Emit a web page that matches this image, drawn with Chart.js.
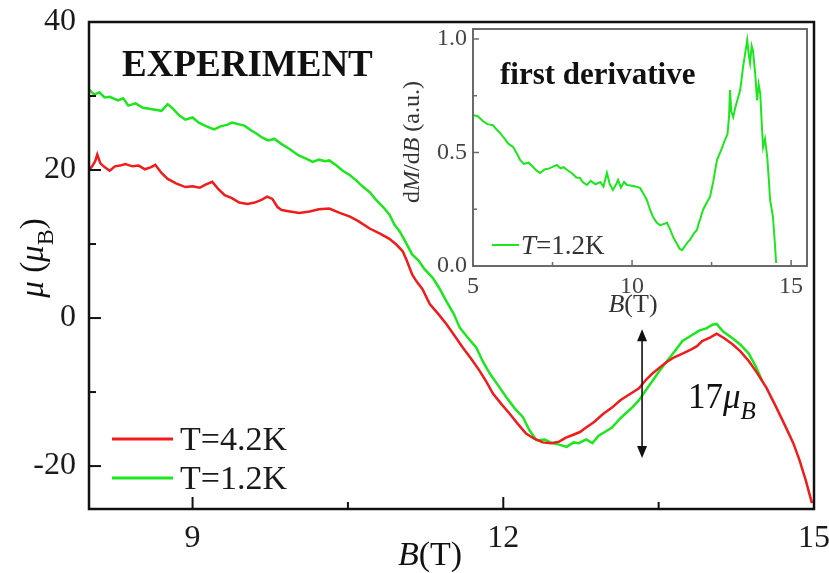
<!DOCTYPE html>
<html>
<head>
<meta charset="utf-8">
<script src="https://cdn.jsdelivr.net/npm/chart.js@4"></script>
<style>
  body { margin: 0; background: #fff; }
  #wrap { position: relative; width: 829px; height: 573px; }
  #main { position: absolute; left: 0; top: 0; }
  #inset { position: absolute; left: 390px; top: 0; }
</style>
</head>
<body>
<div id="wrap">
  <canvas id="main" width="829" height="573"></canvas>
  <canvas id="inset" width="439" height="320"></canvas>
</div>
<script>
// main panel: magnetisation vs field
const greenB = [8.00, 8.05, 8.10, 8.15, 8.20, 8.28, 8.33, 8.38, 8.45, 8.52, 8.61, 8.70, 8.76, 8.81, 8.87, 8.93, 9.00, 9.06, 9.12, 9.17,
  9.21, 9.27, 9.33, 9.38, 9.44, 9.50, 9.56, 9.62, 9.67, 9.73, 9.79, 9.86, 9.94, 10.02, 10.10, 10.16, 10.22, 10.28, 10.32, 10.38,
  10.45, 10.52, 10.58, 10.64, 10.71, 10.77, 10.84, 10.90, 10.95, 11.00, 11.06, 11.12, 11.18, 11.24, 11.32, 11.38, 11.45, 11.52, 11.58, 11.66,
  11.74, 11.80, 11.87, 11.95, 12.03, 12.11, 12.19, 12.25, 12.32, 12.40, 12.47, 12.54, 12.61, 12.68, 12.73, 12.80, 12.86, 12.92, 12.98, 13.05,
  13.12, 13.18, 13.25, 13.31, 13.38, 13.44, 13.50, 13.57, 13.65, 13.73, 13.80, 13.89, 13.96, 14.02, 14.06, 14.12, 14.21, 14.29, 14.37, 14.44, 14.50];
const greenMu = [30.9, 30.2, 30.5, 29.8, 29.9, 29.4, 29.7, 28.7, 29.0, 28.4, 28.2, 28.0, 28.9, 28.3, 27.4, 26.8, 27.1, 26.4, 26.0, 25.7,
  25.5, 25.9, 26.1, 26.4, 26.2, 26.0, 25.4, 24.9, 24.4, 24.0, 24.2, 23.5, 22.8, 22.0, 21.5, 21.1, 21.4, 21.2, 21.3, 20.7,
  19.9, 19.3, 18.6, 17.8, 17.0, 16.0, 15.0, 14.0, 12.6, 11.7, 10.2, 8.6, 7.8, 6.6, 5.4, 4.1, 2.3, 0.6, -1.3, -2.7,
  -4.0, -5.8, -7.5, -9.1, -10.7, -12.2, -13.4, -15.1, -16.5, -16.4, -16.9, -17.1, -17.4, -16.8, -16.9, -16.4, -16.9, -15.9, -15.4, -14.8,
  -13.7, -12.9, -12.0, -11.1, -9.7, -8.5, -7.3, -6.0, -4.6, -3.1, -2.5, -1.7, -1.4, -0.9, -0.8, -1.8, -2.7, -3.6, -4.8, -6.6, -8.5];

const redB = [8.00, 8.03, 8.06, 8.08, 8.11, 8.15, 8.20, 8.25, 8.30, 8.35, 8.42, 8.48, 8.54, 8.60, 8.64, 8.70, 8.76, 8.84, 8.93, 9.00,
  9.07, 9.12, 9.19, 9.25, 9.31, 9.38, 9.45, 9.53, 9.60, 9.67, 9.72, 9.77, 9.82, 9.86, 9.94, 10.03, 10.13, 10.22, 10.32, 10.42,
  10.52, 10.60, 10.71, 10.81, 10.90, 10.97, 11.03, 11.07, 11.12, 11.16, 11.22, 11.29, 11.37, 11.45, 11.53, 11.61, 11.69, 11.77, 11.84, 11.90,
  11.98, 12.06, 12.14, 12.22, 12.30, 12.38, 12.46, 12.54, 12.60, 12.67, 12.74, 12.80, 12.88, 12.96, 13.05, 13.13, 13.22, 13.31, 13.38, 13.44,
  13.50, 13.57, 13.65, 13.73, 13.82, 13.87, 13.92, 14.00, 14.06, 14.13, 14.21, 14.29, 14.37, 14.45, 14.54, 14.63, 14.73, 14.80, 14.86, 14.92, 14.98];
const redMu = [20.0, 20.5, 21.2, 22.1, 20.9, 20.4, 19.9, 20.5, 20.6, 20.8, 20.5, 20.6, 20.1, 20.4, 20.7, 19.6, 18.8, 18.2, 17.7, 17.8,
  17.6, 18.0, 18.4, 17.4, 16.6, 16.2, 15.6, 15.4, 15.6, 16.0, 16.4, 16.1, 15.0, 14.6, 14.4, 14.2, 14.4, 14.7, 14.8, 14.2,
  13.7, 13.1, 12.1, 11.4, 10.7, 9.9, 9.0, 7.7, 5.9, 5.0, 3.9, 1.9, 0.6, -0.8, -2.4, -4.0, -5.5, -7.1, -8.7, -10.2,
  -11.6, -12.9, -14.3, -15.6, -16.3, -16.8, -16.9, -16.7, -16.2, -15.8, -15.4, -14.8, -14.0, -13.0, -12.1, -11.1, -10.3, -9.5, -8.3, -7.5,
  -6.8, -6.0, -5.3, -4.8, -4.2, -3.8, -3.1, -2.6, -2.1, -2.7, -3.5, -4.5, -5.8, -7.4, -9.4, -11.9, -14.8, -16.9, -19.2, -21.9, -25.0];

const mainYMajor = [-20, 0, 20, 40];
const mainYMinor = [-10, 10, 30];
const mainXMajor = [9, 12, 15];
const mainXMinor = [10.5, 13.5];

// double arrow marking the 17 muB step
const arrowB = 13.34;
const arrowMu = [-1.5, -18.9];

// inset: first derivative
const insetB = [5.00, 5.15, 5.30, 5.45, 5.63, 5.75, 5.85, 6.00, 6.10, 6.26, 6.40, 6.48, 6.60, 6.75, 6.89, 7.00, 7.11, 7.25, 7.40, 7.55,
  7.64, 7.75, 7.85, 7.96, 8.10, 8.25, 8.36, 8.45, 8.58, 8.70, 8.85, 9.00, 9.10, 9.21, 9.30, 9.40, 9.50, 9.56, 9.65, 9.75,
  9.84, 9.95, 10.10, 10.25, 10.35, 10.47, 10.56, 10.66, 10.78, 10.88, 11.00, 11.10, 11.20, 11.29, 11.40, 11.50, 11.57, 11.65, 11.75, 11.82,
  11.95, 12.04, 12.10, 12.15, 12.23, 12.35, 12.45, 12.55, 12.67, 12.80, 12.92, 13.00, 13.05, 13.08, 13.12, 13.18, 13.25, 13.33, 13.40, 13.45,
  13.49, 13.55, 13.62, 13.67, 13.71, 13.76, 13.80, 13.87, 13.93, 13.98, 14.03, 14.08, 14.12, 14.18, 14.25, 14.30, 14.34, 14.39, 14.43, 14.48, 14.53];
const insetD = [0.665, 0.66, 0.64, 0.625, 0.62, 0.60, 0.586, 0.56, 0.54, 0.524, 0.49, 0.467, 0.45, 0.455, 0.436, 0.42, 0.41, 0.425, 0.43, 0.44,
  0.445, 0.43, 0.435, 0.423, 0.41, 0.39, 0.388, 0.37, 0.357, 0.375, 0.36, 0.37, 0.35, 0.41, 0.36, 0.335, 0.36, 0.379, 0.345, 0.37,
  0.357, 0.355, 0.35, 0.344, 0.32, 0.29, 0.25, 0.216, 0.19, 0.18, 0.185, 0.19, 0.16, 0.128, 0.10, 0.075, 0.07, 0.085, 0.105, 0.115,
  0.145, 0.159, 0.19, 0.21, 0.247, 0.28, 0.304, 0.37, 0.467, 0.51, 0.555, 0.58, 0.66, 0.775, 0.68, 0.656, 0.70, 0.74, 0.775, 0.83,
  0.877, 0.93, 0.996, 0.93, 0.894, 0.97, 0.95, 0.85, 0.73, 0.80, 0.76, 0.62, 0.524, 0.56, 0.48, 0.38, 0.29, 0.25, 0.216, 0.12, 0.013];

const insetYMajor = [0, 0.5, 1.0];
const insetYMinor = [0.25, 0.75];
const insetXMajor = [5, 10, 15];
const insetXMinor = [7.5, 12.5];

const RED = '#f01c1c';
const GREEN = '#1ee61e';
const SERIF = '"Liberation Serif", "Times New Roman", serif';

function pts(xs, ys) {
  return xs.map((v, i) => ({ x: v, y: ys[i] }));
}

function fontOf(p, size) {
  const s = p[2] ? Math.round(size * 0.72) : size;
  return (p[1] ? 'italic ' : '') + s + 'px ' + SERIF;
}

// parts: [text, italic, subscript]
function richText(ctx, parts, x, y, size, align) {
  const widths = parts.map(p => { ctx.font = fontOf(p, size); return ctx.measureText(p[0]).width; });
  const total = widths.reduce((a, b) => a + b, 0);
  let cx = align === 'center' ? x - total / 2 : x;
  ctx.textAlign = 'left';
  ctx.textBaseline = 'alphabetic';
  parts.forEach((p, i) => {
    ctx.font = fontOf(p, size);
    ctx.fillText(p[0], cx, y + (p[2] ? size * 0.3 : 0));
    cx += widths[i];
  });
}

function inwardTicks(ctx, a, x, y, xs, ys, len) {
  xs.forEach(v => {
    const px = x.getPixelForValue(v);
    ctx.beginPath(); ctx.moveTo(px, a.bottom); ctx.lineTo(px, a.bottom - len); ctx.stroke();
  });
  ys.forEach(v => {
    const py = y.getPixelForValue(v);
    ctx.beginPath(); ctx.moveTo(a.left, py); ctx.lineTo(a.left + len, py); ctx.stroke();
  });
}

const mainDecor = {
  id: 'mainDecor',
  afterDatasetsDraw(chart) {
    const { ctx, chartArea: a, scales: { x, y } } = chart;
    ctx.save();
    ctx.strokeStyle = '#111';
    ctx.lineWidth = 2.5;
    ctx.strokeRect(a.left, a.top, a.right - a.left, a.bottom - a.top);
    ctx.lineWidth = 2;
    inwardTicks(ctx, a, x, y, mainXMajor, mainYMajor, 12);
    inwardTicks(ctx, a, x, y, mainXMinor, mainYMinor, 7);

    ctx.fillStyle = '#111';
    ctx.font = 'bold 37px ' + SERIF;
    ctx.textAlign = 'left';
    ctx.textBaseline = 'alphabetic';
    ctx.fillText('EXPERIMENT', 122, 76);

    // legend
    const ds = chart.data.datasets;
    [439, 478].forEach((ly, i) => {
      ctx.strokeStyle = ds[i].borderColor;
      ctx.lineWidth = 3;
      ctx.beginPath(); ctx.moveTo(112, ly); ctx.lineTo(173, ly); ctx.stroke();
      ctx.fillStyle = '#1a1a1a';
      ctx.font = '34px ' + SERIF;
      ctx.fillText(ds[i].label, 180, ly + 11);
    });

    // double arrow
    const ax = x.getPixelForValue(arrowB);
    const y1 = y.getPixelForValue(arrowMu[0]);
    const y2 = y.getPixelForValue(arrowMu[1]);
    ctx.strokeStyle = '#111';
    ctx.fillStyle = '#111';
    ctx.lineWidth = 1.6;
    ctx.beginPath(); ctx.moveTo(ax, y1 + 8); ctx.lineTo(ax, y2 - 8); ctx.stroke();
    ctx.beginPath(); ctx.moveTo(ax, y1); ctx.lineTo(ax - 5, y1 + 12); ctx.lineTo(ax + 5, y1 + 12); ctx.closePath(); ctx.fill();
    ctx.beginPath(); ctx.moveTo(ax, y2); ctx.lineTo(ax - 5, y2 - 12); ctx.lineTo(ax + 5, y2 - 12); ctx.closePath(); ctx.fill();

    ctx.fillStyle = '#111';
    richText(ctx, [['17', false], ['\u03bc', true], ['B', true, true]], 688, 408, 35, 'left');

    // axis titles
    richText(ctx, [['B', true], ['(T)', false]], 430, 565, 34, 'center');
    ctx.save();
    ctx.translate(43, 258);
    ctx.rotate(-Math.PI / 2);
    richText(ctx, [['\u03bc', true], [' (', false], ['\u03bc', true], ['B', false, true], [')', false]], 0, 0, 33, 'center');
    ctx.restore();
    ctx.restore();
  }
};

const insetDecor = {
  id: 'insetDecor',
  afterDatasetsDraw(chart) {
    const { ctx, chartArea: a, scales: { x, y } } = chart;
    ctx.save();
    ctx.strokeStyle = '#6a6a6a';
    ctx.lineWidth = 2;
    ctx.strokeRect(a.left, a.top, a.right - a.left, a.bottom - a.top);
    ctx.lineWidth = 1.5;
    inwardTicks(ctx, a, x, y, insetXMajor, insetYMajor, 6);
    inwardTicks(ctx, a, x, y, insetXMinor, insetYMinor, 4);

    ctx.fillStyle = '#111';
    ctx.font = 'bold 31px ' + SERIF;
    ctx.textAlign = 'left';
    ctx.textBaseline = 'alphabetic';
    ctx.fillText('first derivative', 110, 84);

    ctx.strokeStyle = GREEN;
    ctx.lineWidth = 2;
    ctx.beginPath(); ctx.moveTo(102, 245); ctx.lineTo(129, 245); ctx.stroke();
    ctx.fillStyle = '#333';
    richText(ctx, [['T', true], ['=1.2K', false]], 131, 254, 27, 'left');

    richText(ctx, [['B', true], ['(T)', false]], 243, 312, 26, 'center');
    ctx.save();
    ctx.translate(29, 142);
    ctx.rotate(-Math.PI / 2);
    richText(ctx, [['d', false], ['M', true], ['/d', false], ['B', true], [' (a.u.)', false]], 0, 0, 24, 'center');
    ctx.restore();
    ctx.restore();
  }
};

function fixedTicks(list) {
  return scale => { scale.ticks = list.map(v => ({ value: v })); };
}

// keep label overflow from shifting the plot area
function noPad(s) {
  s.paddingLeft = 0; s.paddingRight = 0; s.paddingTop = 0; s.paddingBottom = 0;
}

new Chart(document.getElementById('main'), {
  type: 'line',
  data: {
    datasets: [
      { label: 'T=4.2K', data: pts(redB, redMu), borderColor: RED, borderWidth: 2.5 },
      { label: 'T=1.2K', data: pts(greenB, greenMu), borderColor: GREEN, borderWidth: 2.5 }
    ]
  },
  options: {
    responsive: false,
    animation: false,
    devicePixelRatio: 1,
    layout: { padding: { left: 0, top: 22, right: 15, bottom: 0 } },
    elements: { point: { radius: 0 }, line: { tension: 0 } },
    plugins: { legend: { display: false }, tooltip: { enabled: false } },
    scales: {
      x: {
        type: 'linear', min: 8, max: 15,
        grid: { display: false, drawTicks: false },
        border: { display: false },
        afterBuildTicks: fixedTicks(mainXMajor),
        afterFit: s => { s.height = 64; noPad(s); },
        ticks: { autoSkip: false, maxRotation: 0, padding: 10, color: '#1a1a1a', font: { family: SERIF, size: 32 }, callback: v => String(v) }
      },
      y: {
        min: -25.8, max: 40,
        grid: { display: false, drawTicks: false },
        border: { display: false },
        afterBuildTicks: fixedTicks(mainYMajor),
        afterFit: s => { s.width = 89; noPad(s); },
        ticks: { autoSkip: false, padding: 13, color: '#1a1a1a', font: { family: SERIF, size: 32 }, callback: v => String(v) }
      }
    }
  },
  plugins: [mainDecor]
});

new Chart(document.getElementById('inset'), {
  type: 'line',
  data: {
    datasets: [
      { label: 'T=1.2K', data: pts(insetB, insetD), borderColor: GREEN, borderWidth: 2 }
    ]
  },
  options: {
    responsive: false,
    animation: false,
    devicePixelRatio: 1,
    layout: { padding: { left: 0, top: 29, right: 22, bottom: 0 } },
    elements: { point: { radius: 0 }, line: { tension: 0 } },
    plugins: { legend: { display: false }, tooltip: { enabled: false } },
    scales: {
      x: {
        type: 'linear', min: 5, max: 15.5,
        grid: { display: false, drawTicks: false },
        border: { display: false },
        afterBuildTicks: fixedTicks(insetXMajor),
        afterFit: s => { s.height = 54; noPad(s); },
        ticks: { autoSkip: false, maxRotation: 0, padding: 6, color: '#444', font: { family: SERIF, size: 24 }, callback: v => String(v) }
      },
      y: {
        min: 0, max: 1.044,
        grid: { display: false, drawTicks: false },
        border: { display: false },
        afterBuildTicks: fixedTicks(insetYMajor),
        afterFit: s => { s.width = 83; noPad(s); },
        ticks: { autoSkip: false, padding: 6, color: '#444', font: { family: SERIF, size: 24 }, callback: v => v.toFixed(1) }
      }
    }
  },
  plugins: [insetDecor]
});
</script>
</body>
</html>
